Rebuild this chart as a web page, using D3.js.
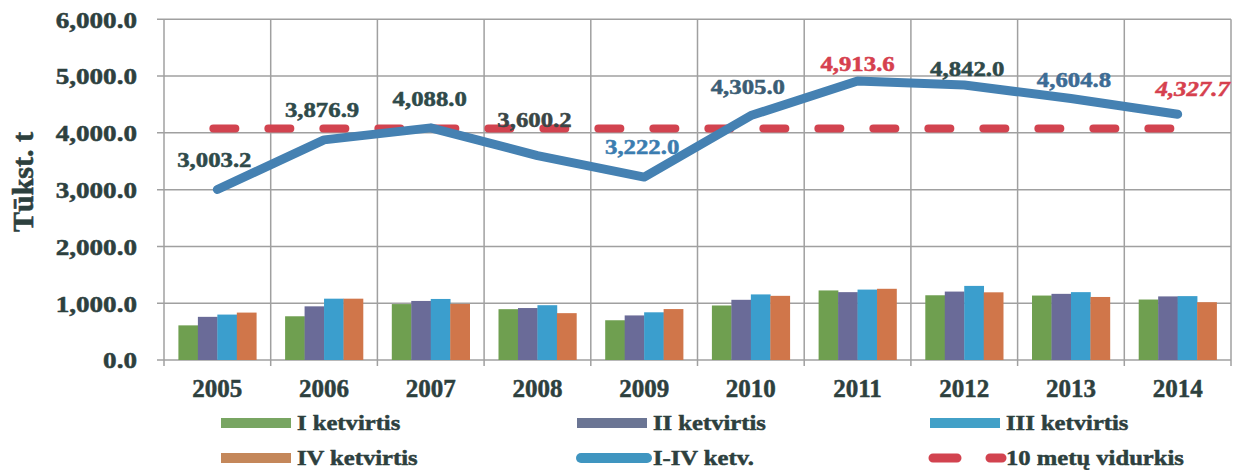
<!DOCTYPE html>
<html>
<head>
<meta charset="utf-8">
<script src="https://cdn.jsdelivr.net/npm/d3@7"></script>
<style>
  html, body { margin: 0; padding: 0; background: #fff; }
  svg { display: block; }
  text { font-family: "Liberation Serif", "Times New Roman", serif; font-weight: bold; }
</style>
</head>
<body>
<svg id="chart" width="1240" height="470"></svg>
<script>
// ---- data ----
const years = ["2005","2006","2007","2008","2009","2010","2011","2012","2013","2014"];
const q1 = [610, 770, 985, 895, 700, 960, 1225, 1140, 1135, 1065];
const q2 = [760, 945, 1040, 915, 785, 1060, 1195, 1205, 1165, 1120];
const q3 = [800, 1080, 1075, 965, 840, 1155, 1240, 1305, 1195, 1125];
const q4 = [835, 1080, 988, 825, 897, 1130, 1254, 1192, 1110, 1018];
const total = [3003.2, 3876.9, 4088.0, 3600.2, 3222.0, 4305.0, 4913.6, 4842.0, 4604.8, 4327.7];
const avg10 = [4078.3, 4078.3, 4078.3, 4078.3, 4078.3, 4078.3, 4078.3, 4078.3, 4078.3, 4078.3];
const yTicks = [0, 1000, 2000, 3000, 4000, 5000, 6000];
const seriesNames = ["I ketvirtis", "II ketvirtis", "III ketvirtis", "IV ketvirtis", "I-IV ketv.", "10 metų vidurkis"];

// ---- styles ----
const barColors = ["#6f9f50", "#6a6b98", "#3b9ecd", "#d0764a"];
const legendBarColors = ["#78a562", "#6b7594", "#42a0c7", "#c4875a"];
const lineColor = "#4581b2";
const avgColor = "#d2434f";
const textColor = "#2d403e";
const gridColor = "#a0a0a0";
const labelStyle = [
  {c: "#2f4a4a", dx: -3, dy: -22, it: false},
  {c: "#2f4a4a", dx: -2, dy: -23, it: false},
  {c: "#2f4a4a", dx: -1, dy: -22, it: false},
  {c: "#3a4646", dx: -3, dy: -29, it: false},
  {c: "#3b7db0", dx: -2, dy: -23, it: false},
  {c: "#3b5d74", dx: -3, dy: -22, it: false},
  {c: "#d6404e", dx: 0, dy: -10, it: false},
  {c: "#2f4a4a", dx: 3, dy: -9, it: false},
  {c: "#3d6c95", dx: 3, dy: -12, it: false},
  {c: "#d6404e", dx: 15, dy: -18, it: true}
];

const svg = d3.select("#chart");
const L = 164, R = 1231, T = 19.3, B = 360;

const x = d3.scaleBand().domain(years).range([L, R]).paddingInner(0).paddingOuter(0);
const bw = x.bandwidth();
const xi = d3.scaleBand().domain([0,1,2,3]).range([bw*0.135, bw*0.865]).padding(0);
const y = d3.scaleLinear().domain([0, 6000]).range([B, T]);
const fmt = d3.format(",.1f");

// grid horizontal
svg.append("g").selectAll("line").data(yTicks).join("line")
  .attr("x1", L - 7).attr("x2", R)
  .attr("y1", d => y(d)).attr("y2", d => y(d))
  .attr("stroke", gridColor).attr("stroke-width", 1.5);

// grid vertical (category boundaries)
const bounds = years.map(d => x(d)).concat([R]);
svg.append("g").selectAll("line").data(bounds).join("line")
  .attr("x1", d => d).attr("x2", d => d)
  .attr("y1", T).attr("y2", B + 6)
  .attr("stroke", gridColor).attr("stroke-width", 1.5);

// bars
const quarters = [q1, q2, q3, q4];
quarters.forEach((arr, qi) => {
  svg.append("g").selectAll("rect").data(arr).join("rect")
    .attr("x", (d, i) => x(years[i]) + xi(qi))
    .attr("width", xi.bandwidth() + 0.3)
    .attr("y", d => y(d))
    .attr("height", d => B - y(d))
    .attr("fill", barColors[qi]);
});

// 10-year average dashed line
const lineGen = d3.line().x((d, i) => x(years[i]) + bw / 2).y(d => y(d));
svg.append("path").datum(avg10)
  .attr("d", d3.line().x((d, i) => x(years[i]) + bw / 2 - 4).y(d => y(d)))
  .attr("fill", "none").attr("stroke", avgColor).attr("stroke-width", 8)
  .attr("stroke-linecap", "round").attr("stroke-dasharray", "22,33");

// total line
svg.append("path").datum(total)
  .attr("d", lineGen)
  .attr("fill", "none").attr("stroke", lineColor).attr("stroke-width", 9)
  .attr("stroke-linecap", "round").attr("stroke-linejoin", "round");

// data labels
const lab = svg.append("g").selectAll("g").data(total).join("g")
  .attr("transform", (d, i) => `translate(${x(years[i]) + bw/2 + labelStyle[i].dx},${y(d) + labelStyle[i].dy})`);
lab.append("text")
  .attr("text-anchor", "middle")
  .attr("transform", "scale(1.18,1)")
  .attr("font-size", 21)
  .attr("font-style", (d, i) => labelStyle[i].it ? "italic" : "normal")
  .attr("fill", (d, i) => labelStyle[i].c)
  .attr("stroke", (d, i) => labelStyle[i].c).attr("stroke-width", 0.5)
  .text(d => fmt(d));

// y axis
const yAxis = svg.append("g").attr("transform", `translate(${L},0)`)
  .call(d3.axisLeft(y).tickValues(yTicks).tickFormat(fmt).tickSize(0).tickPadding(0));
yAxis.select(".domain").remove();
yAxis.selectAll("text")
  .attr("x", 0).attr("dx", 0).attr("dy", "0.34em")
  .attr("transform", "translate(-27,0) scale(1.18,1)")
  .attr("font-size", 23).attr("fill", textColor)
  .attr("stroke", textColor).attr("stroke-width", 0.5)
  .style("font-family", "Liberation Serif").style("font-weight", "bold");

// x axis
const xAxis = svg.append("g").attr("transform", `translate(0,${B})`)
  .call(d3.axisBottom(x).tickSize(0).tickPadding(0));
xAxis.select(".domain").remove();
xAxis.selectAll("text")
  .attr("y", 37).attr("dy", 0)
  .attr("font-size", 25).attr("fill", textColor)
  .attr("stroke", textColor).attr("stroke-width", 0.5)
  .style("font-family", "Liberation Serif").style("font-weight", "bold");

// y title
svg.append("text")
  .attr("transform", "translate(33,182) rotate(-90)")
  .attr("text-anchor", "middle")
  .attr("font-size", 30).attr("fill", textColor)
  .attr("stroke", textColor).attr("stroke-width", 0.6)
  .text("Tūkst. t");

// legend
const legendItems = [
  {name: seriesNames[0], type: "bar", c: legendBarColors[0], col: 0, row: 0},
  {name: seriesNames[1], type: "bar", c: legendBarColors[1], col: 1, row: 0},
  {name: seriesNames[2], type: "bar", c: legendBarColors[2], col: 2, row: 0},
  {name: seriesNames[3], type: "bar", c: legendBarColors[3], col: 0, row: 1},
  {name: seriesNames[4], type: "line", c: "#3f95c0", col: 1, row: 1},
  {name: seriesNames[5], type: "dash", c: avgColor, col: 2, row: 1}
];
const colX = [221, 577, 930];
const rowY = [423, 458];
const lg = svg.append("g").selectAll("g").data(legendItems).join("g")
  .attr("transform", d => `translate(${colX[d.col]},${rowY[d.row]})`);
lg.filter(d => d.type === "bar").append("rect")
  .attr("x", 0).attr("y", -5).attr("width", 70).attr("height", 10).attr("fill", d => d.c);
lg.filter(d => d.type === "line").append("line")
  .attr("x1", 4).attr("x2", 70).attr("y1", 0).attr("y2", 0)
  .attr("stroke", d => d.c).attr("stroke-width", 10).attr("stroke-linecap", "round");
lg.filter(d => d.type === "dash").append("line")
  .attr("x1", 3).attr("x2", 72).attr("y1", 0).attr("y2", 0)
  .attr("stroke", d => d.c).attr("stroke-width", 9).attr("stroke-linecap", "round")
  .attr("stroke-dasharray", "24,33");
lg.append("text")
  .attr("transform", "translate(76,7) scale(1.12,1)")
  .attr("font-size", 22).attr("fill", textColor)
  .attr("stroke", textColor).attr("stroke-width", 0.5)
  .text(d => d.name);
</script>
</body>
</html>
